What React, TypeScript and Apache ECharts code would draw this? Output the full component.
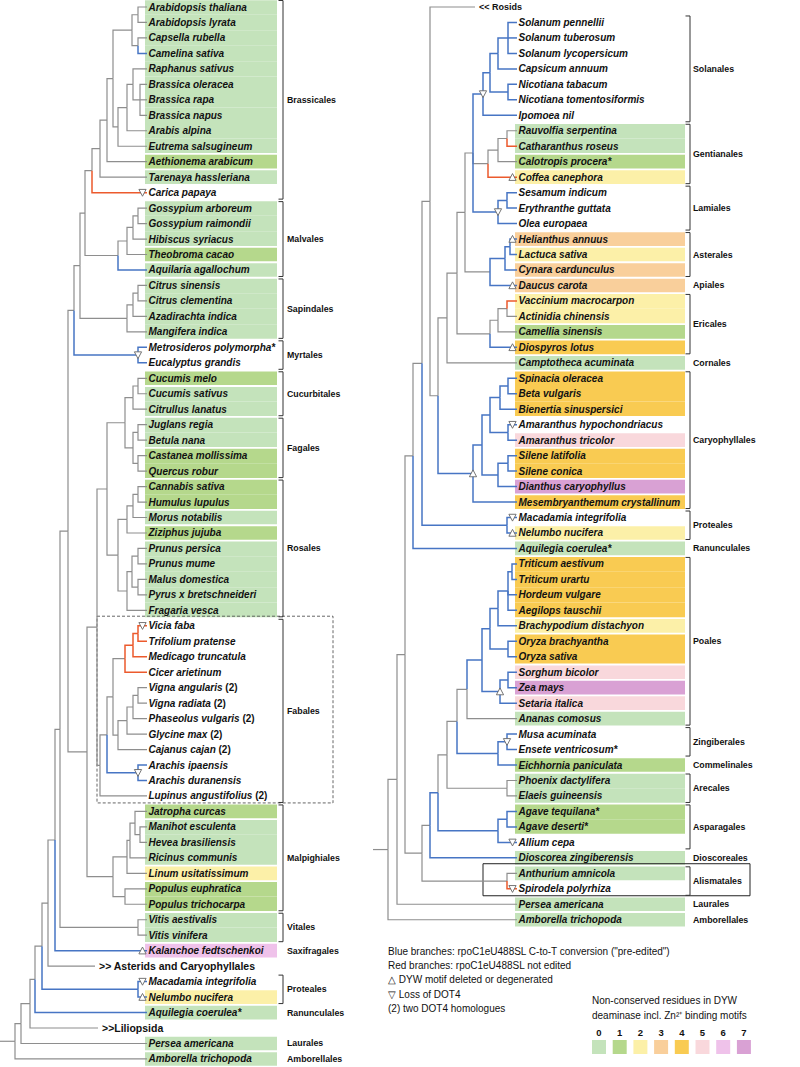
import { useEffect, useRef } from 'react';
import * as echarts from 'echarts';

// ---------------- DATA ----------------
// Residue classes (number of non-conserved residues), -1 = no shading
const residueTicks = ['0', '1', '2', '3', '4', '5', '6', '7'];
const residueColors = ['#c4e3bb', '#b5d88c', '#fcf0a8', '#f9cf9b', '#f9cb52', '#f9d8dc', '#efc2ea', '#d9a1d4'];

const leftTaxa = [
  'Arabidopsis thaliana', 'Arabidopsis lyrata', 'Capsella rubella', 'Camelina sativa', 'Raphanus sativus',
  'Brassica oleracea', 'Brassica rapa', 'Brassica napus', 'Arabis alpina', 'Eutrema salsugineum',
  'Aethionema arabicum', 'Tarenaya hassleriana', 'Carica papaya',
  'Gossypium arboreum', 'Gossypium raimondii', 'Hibiscus syriacus', 'Theobroma cacao', 'Aquilaria agallochum',
  'Citrus sinensis', 'Citrus clementina', 'Azadirachta indica', 'Mangifera indica',
  'Metrosideros polymorpha*', 'Eucalyptus grandis',
  'Cucumis melo', 'Cucumis sativus', 'Citrullus lanatus',
  'Juglans regia', 'Betula nana', 'Castanea mollissima', 'Quercus robur',
  'Cannabis sativa', 'Humulus lupulus', 'Morus notabilis', 'Ziziphus jujuba', 'Prunus persica', 'Prunus mume',
  'Malus domestica', 'Pyrus x bretschneideri', 'Fragaria vesca',
  'Vicia faba', 'Trifolium pratense', 'Medicago truncatula', 'Cicer arietinum', 'Vigna angularis (2)',
  'Vigna radiata (2)', 'Phaseolus vulgaris (2)', 'Glycine max (2)', 'Cajanus cajan (2)', 'Arachis ipaensis',
  'Arachis duranensis', 'Lupinus angustifolius (2)',
  'Jatropha curcas', 'Manihot esculenta', 'Hevea brasiliensis', 'Ricinus communis', 'Linum usitatissimum',
  'Populus euphratica', 'Populus trichocarpa',
  'Vitis aestivalis', 'Vitis vinifera', 'Kalanchoe fedtschenkoi', '>> Asterids and Caryophyllales',
  'Macadamia integrifolia', 'Nelumbo nucifera', 'Aquilegia coerulea*', '>>Liliopsida', 'Persea americana',
  'Amborella trichopoda',
];
const leftResidue = [
  0, 0, 0, 0, 0, 0, 0, 0, 0, 0, 1, 0, -1,
  0, 0, 0, 1, 0,
  0, 0, 0, 0,
  -1, -1,
  1, 0, 0,
  0, 0, 1, 1,
  1, 1, 0, 1, 0, 0, 0, 0, 0,
  -1, -1, -1, -1, -1, -1, -1, -1, -1, -1, -1, -1,
  1, 0, 0, 0, 2, 1, 1,
  0, 0, 6, -1, -1, 2, 0, -1, 0, 0,
];
const leftOrders = ['Brassicales', 'Malvales', 'Sapindales', 'Myrtales', 'Cucurbitales', 'Fagales', 'Rosales', 'Fabales',
  'Malpighiales', 'Vitales', 'Saxifragales', 'Proteales', 'Ranunculales', 'Laurales', 'Amborellales'];
const leftOrderStart = [0, 13, 18, 22, 24, 27, 31, 40, 52, 59, 61, 63, 65, 67, 68];
const leftOrderEnd = [12, 17, 21, 23, 26, 30, 39, 51, 58, 60, 61, 64, 65, 67, 68];

const rightTaxa = [
  '<< Rosids', 'Solanum pennellii', 'Solanum tuberosum', 'Solanum lycopersicum', 'Capsicum annuum',
  'Nicotiana tabacum', 'Nicotiana tomentosiformis', 'Ipomoea nil', 'Rauvolfia serpentina', 'Catharanthus roseus',
  'Calotropis procera*', 'Coffea canephora', 'Sesamum indicum', 'Erythranthe guttata', 'Olea europaea',
  'Helianthus annuus', 'Lactuca sativa', 'Cynara cardunculus', 'Daucus carota', 'Vaccinium macrocarpon',
  'Actinidia chinensis', 'Camellia sinensis', 'Diospyros lotus', 'Camptotheca acuminata', 'Spinacia oleracea',
  'Beta vulgaris', 'Bienertia sinuspersici', 'Amaranthus hypochondriacus', 'Amaranthus tricolor', 'Silene latifolia',
  'Silene conica', 'Dianthus caryophyllus', 'Mesembryanthemum crystallinum', 'Macadamia integrifolia',
  'Nelumbo nucifera', 'Aquilegia coerulea*', 'Triticum aestivum', 'Triticum urartu', 'Hordeum vulgare',
  'Aegilops tauschii', 'Brachypodium distachyon', 'Oryza brachyantha', 'Oryza sativa', 'Sorghum bicolor',
  'Zea mays', 'Setaria italica', 'Ananas comosus', 'Musa acuminata', 'Ensete ventricosum*',
  'Eichhornia paniculata', 'Phoenix dactylifera', 'Elaeis guineensis', 'Agave tequilana*', 'Agave deserti*',
  'Allium cepa', 'Dioscorea zingiberensis', 'Anthurium amnicola', 'Spirodela polyrhiza', 'Persea americana',
  'Amborella trichopoda',
];
const rightResidue = [
  -1, -1, -1, -1, -1, -1, -1, -1,
  0, 0, 1, 2,
  -1, -1, -1,
  3, 2, 3, 3,
  2, 2, 1, 4, 0,
  4, 4, 4, -1, 5, 4, 4, 7, 4,
  -1, 2, 0,
  4, 4, 4, 4, 2, 4, 4, 5, 7, 5, 0,
  -1, -1, 1, 0, 0, 1, 1, -1, 0, 0, -1, 0, 0,
];
const rightOrders = ['Solanales', 'Gentianales', 'Lamiales', 'Asterales', 'Apiales', 'Ericales', 'Cornales',
  'Caryophyllales', 'Proteales', 'Ranunculales', 'Poales', 'Zingiberales', 'Commelinales', 'Arecales',
  'Asparagales', 'Dioscoreales', 'Alismatales', 'Laurales', 'Amborellales'];
const rightOrderStart = [1, 8, 12, 15, 18, 19, 23, 24, 33, 35, 36, 47, 49, 50, 52, 55, 56, 58, 59];
const rightOrderEnd = [7, 11, 14, 17, 18, 22, 23, 32, 34, 35, 46, 48, 49, 51, 54, 55, 57, 58, 59];

const legendLines = [
  'Blue branches: rpoC1eU488SL C-to-T conversion ("pre-edited")',
  'Red branches: rpoC1eU488SL not edited',
  '\u25B3 DYW motif deleted or degenerated',
  '\u25BD Loss of DOT4',
  '(2) two DOT4 homologues',
];
const residueTitle = ['Non-conserved residues in DYW', 'deaminase incl. Zn\u00B2\u207A binding motifs'];

// ---------------- TREES ----------------
// node depth x; c: branch colour (b blue, r red); m: marker (up = DYW lost, down = DOT4 lost)
type Tree = { x?: number; r?: number; c: string; m: string; tip?: number; k?: Tree[]; y?: number; px?: number };
const N = (x: number, k: (Tree | number)[], c = '', m = ''): Tree => ({
  x, c, m, k: k.map((v) => (typeof v === 'number' ? { r: v, c: '', m: '' } : v)),
});
const L = (r: number, c = '', m = '', tip?: number): Tree => ({ r, c, m, tip });
const B = (t: Tree): Tree => { t.c = 'b'; if (t.k) t.k.forEach(B); return t; };

const brassicales = N(92, [
  N(100, [
    N(107, [
      N(113, [
        N(132, [N(138, [0, 1]), N(138, [2, L(3, 'b')])]),
        N(118, [N(127, [N(133, [4, N(140, [5, 6, 7])]), 8]), 9]),
      ]),
      10,
    ]),
    11,
  ]),
  L(12, 'r', 'down'),
]);
const malvales = N(118, [N(127, [N(133, [N(138, [13, 14]), 15]), 16]), L(17, 'b')]);
const sapindales = N(127, [N(133, [N(138, [18, 19]), 20]), 21]);
const myrtales = N(138, [L(22, 'b'), L(23, 'b')], 'b', 'down');
const cucFag = N(125, [N(133, [N(138, [24, 25]), 26]), N(133, [N(138, [27, 28]), N(138, [29, 30])])]);
const rosales = N(118, [
  N(127, [N(133, [N(138, [31, 32]), 33]), 34]),
  N(127, [N(132, [N(138, [35, 36]), N(138, [37, 38])]), 39]),
]);
const fabales = N(100, [
  N(107, [
    N(113, [
      N(125, [N(133, [N(138, [L(40, 'r', 'down'), L(41, 'r')], 'r'), L(42, 'r')], 'r'), L(43, 'r')]),
      N(118, [N(127, [N(133, [N(138, [44, 45]), 46]), 47]), 48]),
    ]),
    N(138, [L(49, 'b'), L(50, 'b')], 'b', 'down'),
  ]),
  51,
]);
const malpighiales = N(113, [N(127, [N(130, [N(135, [52, N(140, [53, 54])]), 55]), 56]), N(125, [57, 58])]);
const rosidsL = N(60, [
  N(68, [
    N(74, [N(80, [N(85, [brassicales, malvales]), sapindales]), myrtales]),
    N(87, [N(97, [N(107, [cucFag, rosales]), fabales]), malpighiales]),
  ]),
  N(138, [59, 60]),
]);
const leftTree = N(15, [
  N(21, [
    N(30, [
      N(35, [
        N(42, [
          N(48, [N(55, [rosidsL, L(61, 'b', 'up')]), L(62, '', '', 95)]),
          B(N(138, [L(63, '', 'down'), L(64, '', 'up')])),
        ]),
        L(65, 'b'),
      ]),
      L(66, '', '', 98),
    ]),
    67,
  ]),
  68,
]);

const solanales = B(N(483, [N(490, [N(498, [N(508, [1, 2, 3]), 4]), N(508, [5, 6])]), 7], '', 'down'));
const gentianales = N(488, [N(498, [N(507, [8, L(9, 'r')]), 10]), L(11, 'r', 'up')]);
const lamiales = B(N(498, [N(507, [12, 13]), 14], '', 'down'));
const campanulids = N(490, [B(N(505, [N(510, [L(15, '', 'up'), 16]), 17])), L(18, 'b', 'up')]);
const ericales = N(490, [N(498, [N(507, [L(19, 'r'), 20]), 21]), L(22, 'b', 'up')]);
const asterids = N(447, [N(457, [N(465, [N(473, [solanales, gentianales, lamiales]), campanulids]), ericales]), 23]);
const caryophyllales = B(N(473, [
  N(482, [
    N(490, [N(500, [N(508, [24, 25]), 26]), N(508, [L(27, '', 'down'), 28])]),
    N(498, [N(508, [29, 30]), 31]),
  ]),
  32,
], '', 'up'));
const eudicotsR = N(413, [
  N(422, [
    N(430, [L(0, '', '', 475), N(438, [asterids, caryophyllales])]),
    B(N(507, [L(33, '', 'down'), L(34, '', 'up')])),
  ]),
  L(35, 'b'),
]);
const poales = N(467, [
  B(N(482, [
    N(490, [N(498, [N(508, [N(512, [36, 37]), 38, 39]), 40]), N(508, [41, 42])]),
    N(500, [N(508, [43, 44]), 45], '', 'up'),
  ])),
  46,
]);
const monocots = N(422, [
  N(430, [
    N(438, [
      N(447, [N(457, [poales, B(N(498, [N(507, [47, 48], '', 'down'), 49]))]), N(507, [50, 51])]),
      B(N(498, [N(507, [52, 53]), L(54, '', 'down')])),
    ], 'b'),
    L(55, 'b'),
  ]),
  N(507, [56, L(57, 'r', 'down')]),
]);
const rightTree = N(388, [N(397, [N(405, [eudicotsR, monocots]), 58]), 59]);

// ---------------- LAYOUT HELPERS ----------------
const ROW_H = 15.47;
const ROW0_Y = 7;
const PAGE_H = 1067;
const Y_MIN = -ROW0_Y / ROW_H;
const Y_MAX = Y_MIN + PAGE_H / ROW_H;
const FONT = 'Liberation Sans, Arial, Helvetica, sans-serif';
const BRANCH = ['#8e8e8e', '#4775c4', '#ec5a2d'];
const cIdx = (c: string) => (c === 'b' ? 1 : c === 'r' ? 2 : 0);

function layout(root: Tree, leafX: number, stemX: number) {
  const edges: number[][] = [];
  const marks: number[][] = [];
  const tips: Record<number, number> = {};
  const place = (t: Tree) => {
    if (t.k) {
      t.k.forEach(place);
      t.y = (t.k[0].y! + t.k[t.k.length - 1].y!) / 2;
      t.px = t.x;
    } else {
      t.y = t.r;
      t.px = t.tip ?? leafX;
      tips[t.r!] = t.px!;
    }
  };
  const walk = (t: Tree, ax: number, ay: number) => {
    edges.push([ax, ay, t.px!, t.y!, cIdx(t.c)]);
    if (t.m) marks.push([t.k ? t.px! : leafX - 4.5, t.y!, t.m === 'up' ? 1 : 0]);
    if (t.k) t.k.forEach((ch) => walk(ch, t.px!, t.y!));
  };
  place(root);
  walk(root, stemX, root.y!);
  edges.sort((a, b) => a[4] - b[4]);
  return { edges, marks, tips };
}

type Panel = {
  tree: Tree; taxa: string[]; residue: number[]; orders: string[]; oStart: number[]; oEnd: number[];
  leafX: number; stemX: number; rectX0: number; rectX1: number; bracketX: number; labelX: number;
  boxes: { order: string; x0: number; x1: number; dashed: boolean }[];
};

function panelSeries(p: Panel, idx: number): any[] {
  const { edges, marks, tips } = layout(p.tree, p.leafX, p.stemX);
  const n = p.taxa.length;
  const gOf = new Array(n).fill(-1);
  p.oStart.forEach((s, gi) => { for (let r = s; r <= p.oEnd[gi]; r++) gOf[r] = gi; });
  const same = (a: number, b: number) =>
    a >= 0 && b >= 0 && a < n && b < n && p.residue[a] >= 0 && p.residue[a] === p.residue[b] && gOf[a] === gOf[b];
  const rects: number[][] = [];
  p.residue.forEach((v, r) => {
    if (v >= 0) rects.push([p.rectX0, r, v, same(r, r - 1) ? 0 : 0.9, same(r, r + 1) ? 0 : 0.9]);
  });
  const labels = p.taxa.map((_, r) => [tips[r], r]);
  const brackets = p.orders.map((_, gi) => [p.bracketX, p.oStart[gi], p.oEnd[gi]]);
  const boxes = p.boxes.map((b) => {
    const gi = p.orders.indexOf(b.order);
    return [b.x0, p.oStart[gi] - 0.62, b.x1, p.oEnd[gi] + 0.45, b.dashed ? 1 : 0];
  });
  const common = { type: 'custom', coordinateSystem: 'cartesian2d', xAxisIndex: idx, yAxisIndex: idx, silent: true };
  return [
    {
      ...common, z: 1, encode: { x: 0, y: 1 }, data: rects,
      renderItem: (_: any, api: any) => {
        const r = api.value(1);
        const a = api.coord([p.rectX0, r - 0.5]);
        const b = api.coord([p.rectX1, r + 0.5]);
        const gt = api.value(3), gb = api.value(4);
        return {
          type: 'rect',
          shape: { x: a[0], y: a[1] + gt, width: b[0] - a[0], height: b[1] - a[1] - gt - gb },
          style: { fill: residueColors[api.value(2)] },
        };
      },
    },
    {
      ...common, z: 2, encode: { x: [0, 2], y: [1, 3] }, data: boxes,
      renderItem: (_: any, api: any) => {
        const a = api.coord([api.value(0), api.value(1)]);
        const b = api.coord([api.value(2), api.value(3)]);
        const dashed = api.value(4) === 1;
        return {
          type: 'rect',
          shape: { x: a[0], y: a[1], width: b[0] - a[0], height: b[1] - a[1] },
          style: { fill: 'none', stroke: dashed ? '#555' : '#222', lineWidth: dashed ? 0.9 : 1, lineDash: dashed ? [3, 2] : null },
        };
      },
    },
    {
      ...common, z: 3, encode: { x: [0, 2], y: [1, 3] }, data: edges,
      renderItem: (_: any, api: any) => {
        const a = api.coord([api.value(0), api.value(1)]);
        const c = api.coord([api.value(0), api.value(3)]);
        const b = api.coord([api.value(2), api.value(3)]);
        const ci = api.value(4);
        return {
          type: 'polyline',
          shape: { points: [a, c, b] },
          style: { stroke: BRANCH[ci], lineWidth: ci ? 1.5 : 1.2, fill: 'none' },
        };
      },
    },
    {
      ...common, z: 3, encode: { x: 0, y: [1, 2] }, data: brackets,
      renderItem: (params: any, api: any) => {
        const s = api.value(1), e = api.value(2);
        const name = p.orders[params.dataIndex];
        const children: any[] = [];
        if (e > s) {
          const t = api.coord([p.bracketX, s - 0.42]);
          const b = api.coord([p.bracketX, e + 0.42]);
          children.push({
            type: 'polyline',
            shape: { points: [[t[0] - 4.5, t[1]], t, b, [b[0] - 4.5, b[1]]] },
            style: { stroke: '#333', lineWidth: 1, fill: 'none' },
          });
        }
        const m = api.coord([p.labelX, (s + e) / 2]);
        children.push({
          type: 'text', x: m[0], y: m[1],
          style: { text: name, fill: '#111', fontSize: 8.8, fontWeight: 'bold', fontFamily: FONT, verticalAlign: 'middle', align: 'left' },
        });
        return { type: 'group', children };
      },
    },
    {
      ...common, z: 5, encode: { x: 0, y: 1 }, data: marks,
      renderItem: (_: any, api: any) => {
        const c = api.coord([api.value(0), api.value(1)]);
        const up = api.value(2) === 1;
        const h = 3.6, w = 3.6;
        const pts = up
          ? [[c[0], c[1] - h], [c[0] - w, c[1] + h * 0.9], [c[0] + w, c[1] + h * 0.9]]
          : [[c[0], c[1] + h], [c[0] - w, c[1] - h * 0.9], [c[0] + w, c[1] - h * 0.9]];
        return { type: 'polygon', shape: { points: pts }, style: { fill: '#fff', stroke: '#666', lineWidth: 0.9 } };
      },
    },
    {
      ...common, z: 6, encode: { x: 0, y: 1 }, data: labels,
      renderItem: (params: any, api: any) => {
        const name = p.taxa[params.dataIndex];
        const clade = name.startsWith('>>') || name.startsWith('<<');
        const c = api.coord([api.value(0) + (clade ? 4 : 1.5), api.value(1)]);
        if (clade) {
          return {
            type: 'text', x: c[0], y: c[1],
            style: { text: name, fill: '#111', fontSize: name.startsWith('<<') ? 9 : 10.5, fontWeight: 'bold', fontFamily: FONT, verticalAlign: 'middle', align: 'left' },
          };
        }
        const two = name.endsWith(' (2)');
        const base = { fill: '#111', fontSize: 10, fontFamily: FONT, fontWeight: 'bold' };
        return {
          type: 'text', x: c[0], y: c[1],
          style: two
            ? {
                text: `{i|${name.slice(0, -4)}} {n|(2)}`,
                verticalAlign: 'middle', align: 'left', ...base,
                rich: { i: { ...base, fontStyle: 'italic' }, n: { ...base, fontStyle: 'normal' } },
              }
            : { text: name, fontStyle: 'italic', verticalAlign: 'middle', align: 'left', ...base },
        };
      },
    },
  ];
}

function buildOption() {
  const left: Panel = {
    tree: leftTree, taxa: leftTaxa, residue: leftResidue, orders: leftOrders, oStart: leftOrderStart, oEnd: leftOrderEnd,
    leafX: 147, stemX: 0, rectX0: 145, rectX1: 277, bracketX: 283, labelX: 287,
    boxes: [{ order: 'Fabales', x0: 97, x1: 333, dashed: true }],
  };
  const right: Panel = {
    tree: rightTree, taxa: rightTaxa, residue: rightResidue, orders: rightOrders, oStart: rightOrderStart, oEnd: rightOrderEnd,
    leafX: 517, stemX: 373, rectX0: 515, rectX1: 685, bracketX: 690, labelX: 693,
    boxes: [{ order: 'Alismatales', x0: 483, x1: 750, dashed: false }],
  };
  const graphic: any[] = [];
  legendLines.forEach((t, i) => {
    graphic.push({ type: 'text', left: 388, top: 946 + i * 14.4, style: { text: t, fill: '#111', fontSize: 10, fontFamily: FONT } });
  });
  residueTitle.forEach((t, i) => {
    graphic.push({ type: 'text', left: 592, top: 995 + i * 15, style: { text: t, fill: '#111', fontSize: 10, fontFamily: FONT } });
  });
  residueTicks.forEach((t, i) => {
    const x = 592 + i * 20.7;
    graphic.push({ type: 'text', x: x + 7, y: 1032, style: { text: t, fill: '#111', fontSize: 9.5, fontWeight: 'bold', fontFamily: FONT, align: 'center', verticalAlign: 'middle' } });
    graphic.push({ type: 'rect', shape: { x, y: 1040, width: 14, height: 14 }, style: { fill: residueColors[i] } });
  });
  return {
    animation: false,
    backgroundColor: '#ffffff',
    grid: [
      { left: 0, top: 0, width: 390, height: PAGE_H },
      { left: 370, top: 0, width: 430, height: PAGE_H },
    ],
    xAxis: [
      { type: 'value', gridIndex: 0, min: 0, max: 390, show: false },
      { type: 'value', gridIndex: 1, min: 370, max: 800, show: false },
    ],
    yAxis: [
      { type: 'value', gridIndex: 0, min: Y_MIN, max: Y_MAX, inverse: true, show: false },
      { type: 'value', gridIndex: 1, min: Y_MIN, max: Y_MAX, inverse: true, show: false },
    ],
    series: [...panelSeries(left, 0), ...panelSeries(right, 1)],
    graphic,
  };
}

export default function App() {
  const ref = useRef<HTMLDivElement>(null);
  useEffect(() => {
    if (!ref.current) return;
    const chart = echarts.init(ref.current, undefined, { renderer: 'svg', width: 800, height: PAGE_H });
    chart.setOption(buildOption());
    return () => chart.dispose();
  }, []);
  return (
    <div
      ref={ref}
      style={{ position: 'absolute', left: 0, top: 0, width: 800, height: PAGE_H, background: '#fff' }}
    />
  );
}
